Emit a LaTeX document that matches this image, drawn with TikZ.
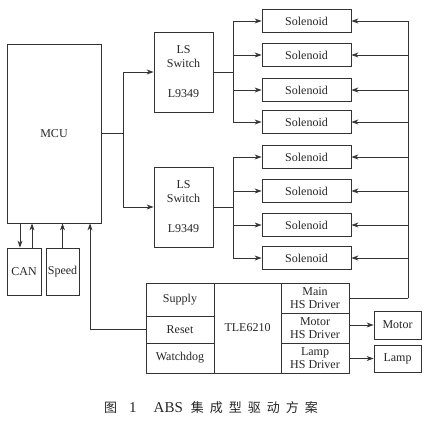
\documentclass[tikz,border=0pt]{standalone}
\usepackage{fontspec}
\setmainfont{Liberation Serif}
\newfontfamily\cjk{Noto Sans CJK SC}
\usetikzlibrary{arrows.meta,calc}
\begin{document}
\begin{tikzpicture}[x=1pt,y=-1pt,
  ln/.style={line width=0.8pt,draw=black!80},
  arr/.style={ln,-{Stealth[length=7pt,width=5pt]}},
  box/.style={ln,rectangle,inner sep=0pt,align=center,font=\fontsize{12}{14}\selectfont,text=black!85},
  sol/.style={box,minimum width=89pt,minimum height=23pt},
  cell/.style={box,minimum width=68pt,font=\fontsize{12}{13.5}\selectfont}]
\useasboundingbox (0,0) rectangle (425,421);
% MCU
\node[box,minimum width=94pt,minimum height=179pt] (mcu) at (54,133.5) {MCU};
% LS switches
\node[box,minimum width=59pt,minimum height=80pt] (ls1) at (183.5,72) {LS\\Switch\\[16pt]L9349};
\node[box,minimum width=59pt,minimum height=80pt] (ls2) at (183.5,207) {LS\\Switch\\[16pt]L9349};
% solenoids
\node[sol] (s1) at (306.5,21) {Solenoid};
\node[sol] (s2) at (306.5,55) {Solenoid};
\node[sol] (s3) at (306.5,90) {Solenoid};
\node[sol] (s4) at (306.5,122) {Solenoid};
\node[sol] (s5) at (306.5,157) {Solenoid};
\node[sol] (s6) at (306.5,191) {Solenoid};
\node[sol] (s7) at (306.5,225) {Solenoid};
\node[sol] (s8) at (306.5,258) {Solenoid};
% CAN / Speed
\node[box,minimum width=34pt,minimum height=47pt] (can) at (24,271.5) {CAN};
\node[box,minimum width=33pt,minimum height=47pt] (speed) at (62.5,271.5) {Speed};
% TLE6210 block
\node[cell,minimum height=33pt] (supply) at (180,299.5) {Supply};
\node[cell,minimum height=27pt] (reset) at (180,329.5) {Reset};
\node[cell,minimum height=30pt] (wdog) at (180,358) {Watchdog};
\node[box,minimum width=67pt,minimum height=90pt] (tle) at (247.5,328) {TLE6210};
\node[cell,minimum height=30pt] (main) at (315,298) {Main\\HS Driver};
\node[cell,minimum height=30pt] (motdrv) at (315,328) {Motor\\HS Driver};
\node[cell,minimum height=30pt] (lampdrv) at (315,358) {Lamp\\HS Driver};
\node[box,minimum width=47pt,minimum height=28pt] (motor) at (397.5,325) {Motor};
\node[box,minimum width=47pt,minimum height=27pt] (lamp) at (397.5,358.5) {Lamp};
% junctions
\coordinate (m) at (123,133.5);
\coordinate (j1) at (233,72);
\coordinate (j2) at (233,207);
\coordinate (fb) at (408,298);
% MCU -> LS
\draw[ln] (mcu.east |- m) -- (m);
\draw[arr] (m) |- (ls1.west);
\draw[arr] (m) |- (ls2.west);
% LS -> solenoids
\draw[ln] (ls1.east) -- (j1);
\draw[ln] (ls2.east) -- (j2);
\foreach \s in {s1,s2,s3,s4} \draw[arr] (j1) |- (\s.west);
\foreach \s in {s5,s6,s7,s8} \draw[arr] (j2) |- (\s.west);
% feedback from Main HS driver
\draw[ln] (main.east) -- (fb);
\foreach \s in {s1,s2,s3,s4,s5,s6,s7,s8} \draw[arr] (fb) |- (\s.east);
% drivers -> loads
\draw[arr] (motdrv.east |- motor.west) -- (motor.west);
\draw[arr] (lampdrv.east |- lamp.west) -- (lamp.west);
% CAN / Speed
\draw[arr] ([xshift=-4pt]can.north |- mcu.south) -- ([xshift=-4pt]can.north);
\draw[arr] ([xshift=8pt]can.north) -- ([xshift=8pt]can.north |- mcu.south);
\draw[arr] (speed.north) -- (speed.north |- mcu.south);
% reset
\draw[arr] (reset.west) -| ([xshift=36pt]mcu.south);
% caption
\node[anchor=west,inner sep=0pt,font=\fontsize{15}{17}\selectfont,text=black!85] (cap) at (104,408) {{\cjk\fontsize{13}{15}\selectfont 图}\hspace{12pt}1\hspace{17pt}ABS\hspace{8pt}{\cjk\fontsize{13}{15}\selectfont 集\hspace{6pt}成\hspace{6pt}型\hspace{6pt}驱\hspace{6pt}动\hspace{6pt}方\hspace{6pt}案}};
\end{tikzpicture}
\end{document}
